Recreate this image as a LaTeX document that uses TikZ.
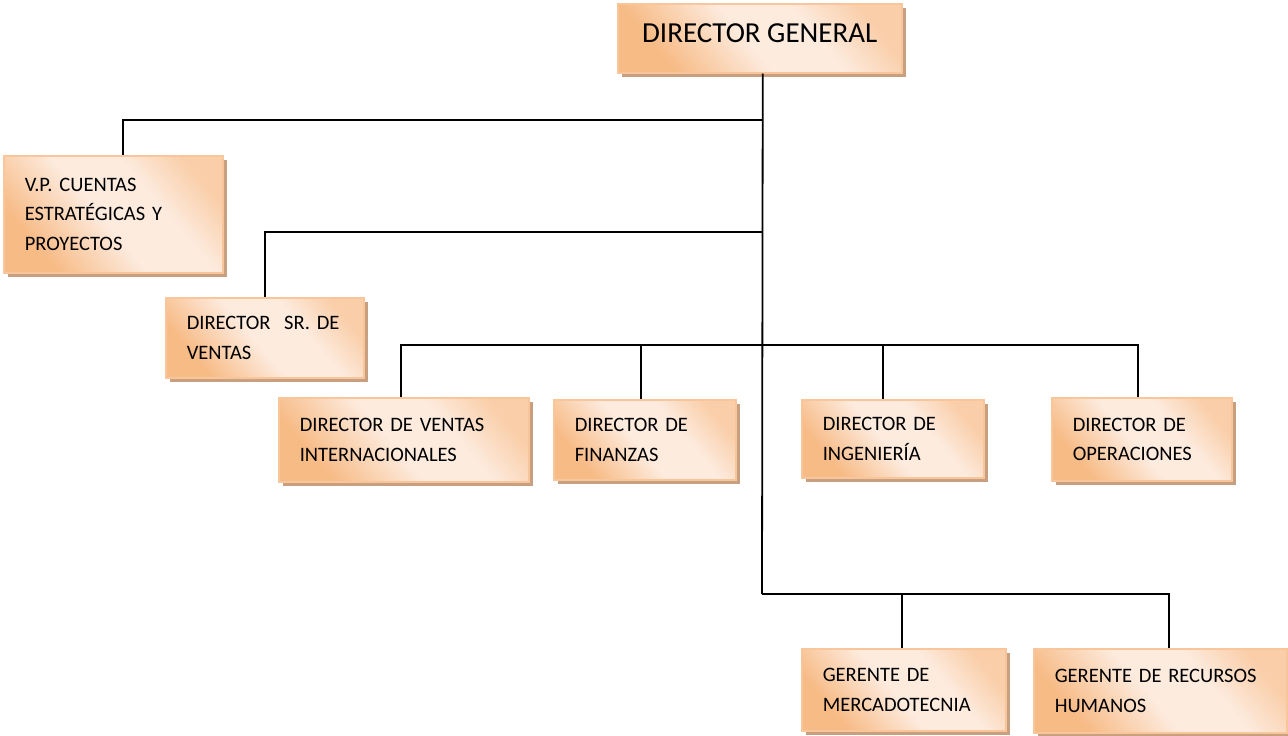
\documentclass[tikz,border=0pt]{standalone}
\usepackage{fontspec}
\setmainfont{Carlito}
\usetikzlibrary{shadows}
\definecolor{naranja}{HTML}{F7BB86}
\definecolor{claro}{HTML}{FDEBDE}
\definecolor{borde}{HTML}{F8C69A}
\definecolor{sombra}{HTML}{C9A07F}
\pgfdeclarehorizontalshading{degradado}{100bp}{color(0bp)=(naranja); color(27bp)=(naranja);
  color(47bp)=(claro); color(62bp)=(claro); color(76bp)=(naranja!60!claro); color(100bp)=(naranja!60!claro)}
\tikzset{
  puesto/.style={draw=borde,line width=1.5pt,anchor=north west,
    shading=degradado,shading angle=40,
    drop shadow={shadow xshift=4.5pt,shadow yshift=-4.5pt,fill=sombra,opacity=1},
    inner xsep=21pt,inner ysep=0pt,align=left,
    font=\fontsize{20.5}{29.5}\selectfont},
  linea/.style={line width=1.8pt,black}
}
\begin{document}
\begin{tikzpicture}[x=1pt,y=-1pt]
\useasboundingbox (0,0) rectangle (1288,736);
\node [puesto,align=center,inner xsep=0pt,minimum width=284pt,minimum height=69pt,
  text depth=10pt,font=\fontsize{29}{35}\selectfont] (dg) at (617,3) {DIRECTOR GENERAL};
\node [puesto,text width=177pt,minimum height=117pt] (vp) at (3,155)
  {V.P. CUENTAS\\ESTRATÉGICAS Y\\PROYECTOS};
\node [puesto,text width=156pt,minimum height=80pt] (dsv) at (165,297)
  {DIRECTOR\ \ SR. DE\\VENTAS};
\node [puesto,text width=208pt,minimum height=84pt] (dvi) at (278,397)
  {DIRECTOR DE VENTAS\\INTERNACIONALES};
\node [puesto,text width=140pt,minimum height=80pt] (df) at (553,399)
  {DIRECTOR DE\\FINANZAS};
\node [puesto,text width=140pt,minimum height=78pt] (di) at (801,399)
  {DIRECTOR DE\\INGENIERÍA};
\node [puesto,text width=138pt,minimum height=83pt] (do) at (1051,397)
  {DIRECTOR DE\\OPERACIONES};
\node [puesto,text width=162pt,minimum height=82pt] (gm) at (801,648)
  {GERENTE DE\\MERCADOTECNIA};
\node [puesto,text width=211pt,minimum height=84pt] (grh) at (1033,648)
  {GERENTE DE RECURSOS\\HUMANOS};
% tronco
\coordinate (n1) at (762,120);
\coordinate (n2) at (762,232);
\coordinate (n3) at (762,345);
\coordinate (n4) at (762,594);
\draw[linea] ([xshift=3pt]dg.south) -- (n4);
% ramas
\draw[linea] (n1) -| ([xshift=10pt]vp.north);
\draw[linea] (n2) -| (dsv.north);
\draw[linea] (n3) -| ([xshift=-3pt]dvi.north);
\draw[linea] (n3) -| ([xshift=-4pt]df.north);
\draw[linea] (n3) -| ([xshift=-10pt]di.north);
\draw[linea] (n3) -| ([xshift=-4pt]do.north);
\draw[linea] (n4) -| ([xshift=-2pt]gm.north);
\draw[linea] (n4) -| ([xshift=9pt]grh.north);
\end{tikzpicture}
\end{document}
